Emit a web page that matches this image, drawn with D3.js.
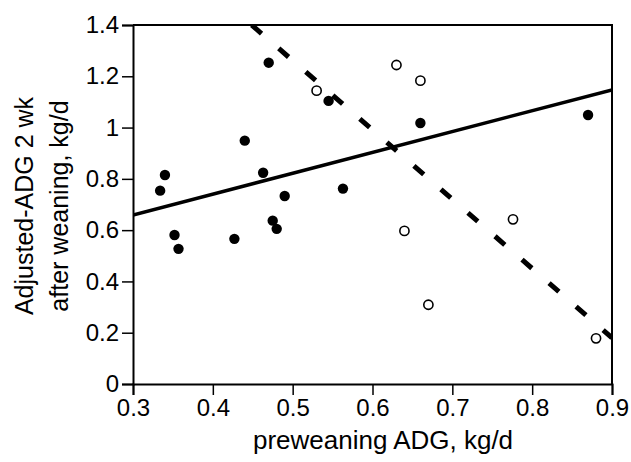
<!DOCTYPE html>
<html>
<head>
<meta charset="utf-8">
<script src="https://cdn.jsdelivr.net/npm/d3@7"></script>
<style>
  body { margin: 0; background: #fff; }
  text { font-family: Arial, "Liberation Sans", sans-serif; fill: #000; }
</style>
</head>
<body>
<div id="chart"></div>
<script>
var width = 631, height = 462,
    margin = {top: 25, right: 19, bottom: 78, left: 133};

// filled circles
var filledX = [0.334, 0.340, 0.352, 0.357, 0.427, 0.440, 0.463, 0.470, 0.475, 0.480, 0.490, 0.545, 0.563, 0.660, 0.870];
var filledY = [0.754, 0.815, 0.581, 0.527, 0.566, 0.949, 0.824, 1.253, 0.637, 0.605, 0.733, 1.104, 0.762, 1.018, 1.049];
// open circles
var openX = [0.530, 0.630, 0.640, 0.660, 0.670, 0.776, 0.880];
var openY = [1.144, 1.244, 0.597, 1.183, 0.309, 0.642, 0.178];
// regression lines [x1, y1, x2, y2]
var solidLine = [0.3, 0.659, 0.9, 1.147];
var dashedLine = [0.4487, 1.4, 0.9, 0.18];

var xTicks = [0.3, 0.4, 0.5, 0.6, 0.7, 0.8, 0.9];
var yTicks = [0, 0.2, 0.4, 0.6, 0.8, 1, 1.2, 1.4];

var w = width - margin.left - margin.right,
    h = height - margin.top - margin.bottom;

var svg = d3.select('#chart').append('svg')
    .attr('width', width)
    .attr('height', height);

var g = svg.append('g')
    .attr('transform', `translate(${margin.left},${margin.top})`);

var x = d3.scaleLinear().domain([0.3, 0.9]).range([0, w]);
var y = d3.scaleLinear().domain([0, 1.4]).range([h, 0]);

// clip for lines
g.append('clipPath').attr('id', 'clip')
    .append('rect').attr('width', w).attr('height', h);

// frame (top + right)
g.append('path')
    .attr('d', `M0,0H${w}V${h}`)
    .attr('fill', 'none')
    .attr('stroke', '#000')
    .attr('stroke-width', 2);

// axes
var xAxis = g.append('g')
    .attr('transform', `translate(0,${h})`)
    .call(d3.axisBottom(x).tickValues(xTicks).tickSize(11).tickPadding(4)
        .tickFormat(d3.format('')));
var yAxis = g.append('g')
    .call(d3.axisLeft(y).tickValues(yTicks).tickSize(11).tickPadding(3)
        .tickFormat(d3.format('')));

[xAxis, yAxis].forEach(function(a) {
    a.select('.domain').attr('stroke-width', 2);
    a.selectAll('.tick line').attr('stroke-width', 1.5);
    a.selectAll('text').style('font-size', '24px').attr('fill', '#000');
});

// lines
var lines = g.append('g').attr('clip-path', 'url(#clip)');
lines.append('line')
    .attr('x1', x(solidLine[0])).attr('y1', y(solidLine[1]))
    .attr('x2', x(solidLine[2])).attr('y2', y(solidLine[3]))
    .attr('stroke', '#000')
    .attr('stroke-width', 3.5);
lines.append('line')
    .attr('x1', x(dashedLine[0])).attr('y1', y(dashedLine[1]))
    .attr('x2', x(dashedLine[2])).attr('y2', y(dashedLine[3]))
    .attr('stroke', '#000')
    .attr('stroke-width', 5)
    .attr('stroke-dasharray', '13,22.8');

// points
g.selectAll('.filled')
    .data(filledX)
    .join('circle')
    .attr('class', 'filled')
    .attr('cx', d => x(d))
    .attr('cy', (d, i) => y(filledY[i]))
    .attr('r', 5.2)
    .attr('fill', '#000');

g.selectAll('.open')
    .data(openX)
    .join('circle')
    .attr('class', 'open')
    .attr('cx', d => x(d))
    .attr('cy', (d, i) => y(openY[i]))
    .attr('r', 4.6)
    .attr('fill', '#fff')
    .attr('stroke', '#000')
    .attr('stroke-width', 1.6);

// axis titles
svg.append('text')
    .attr('x', 383)
    .attr('y', 449)
    .attr('text-anchor', 'middle')
    .style('font-size', '26px')
    .text('preweaning ADG, kg/d');

var yt = svg.append('text')
    .attr('transform', 'translate(33,206) rotate(-90)')
    .attr('text-anchor', 'middle')
    .style('font-size', '25px');
yt.append('tspan').attr('x', 0).attr('y', 0).text('Adjusted-ADG 2 wk');
yt.append('tspan').attr('x', 0).attr('y', 35).text('after weaning, kg/d');
</script>
</body>
</html>
